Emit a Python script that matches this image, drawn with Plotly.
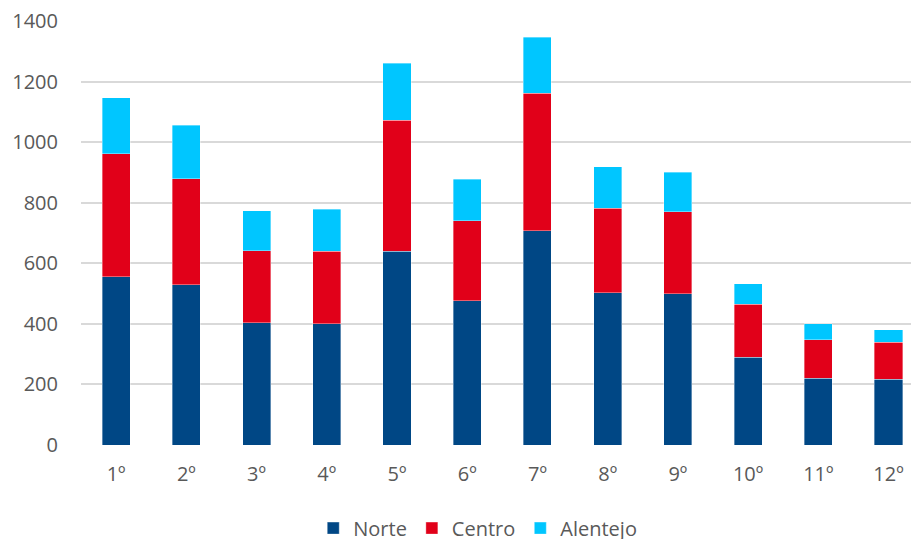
import plotly.graph_objects as go

# Categories and stacked values per region
categories = ["1º", "2º", "3º", "4º", "5º", "6º", "7º", "8º", "9º", "10º", "11º", "12º"]
norte = [555, 529, 403, 401, 640, 476, 707, 502, 500, 290, 221, 217]
centro = [407, 350, 239, 238, 433, 265, 454, 280, 270, 175, 126, 123]
alentejo = [185, 176, 131, 139, 188, 136, 185, 136, 130, 68, 53, 40]

series = [
    ("Norte", norte, "#004785"),
    ("Centro", centro, "#E10019"),
    ("Alentejo", alentejo, "#00C6FF"),
]

font_family = "'Open Sans', Lato, sans-serif"
text_color = "#595959"

fig = go.Figure()
for name, values, color in series:
    fig.add_trace(go.Bar(
        x=categories,
        y=values,
        name=name,
        marker=dict(color=color, line=dict(color="rgba(255,255,255,0.6)", width=0.6)),
    ))

fig.update_layout(
    barmode="stack",
    bargap=0.6,
    width=911,
    height=539,
    margin=dict(l=81, r=0, t=21, b=94, autoexpand=False),
    paper_bgcolor="white",
    plot_bgcolor="white",
    font=dict(family=font_family, size=20, color=text_color),
    legend=dict(
        orientation="h",
        x=0.478,
        xanchor="center",
        y=-0.15,
        yanchor="top",
        font=dict(size=20, color=text_color),
        itemwidth=30,
        traceorder="normal",
    ),
    xaxis=dict(
        range=[-0.5, 11.32],
        showgrid=False,
        showline=False,
        ticks="",
        ticklabelstandoff=15,
    ),
    yaxis=dict(
        range=[0, 1400],
        tickvals=[0, 200, 400, 600, 800, 1000, 1200, 1400],
        showgrid=True,
        gridcolor="#D9D9D9",
        gridwidth=1.5,
        zeroline=False,
        showline=False,
        ticks="",
        ticklabelstandoff=22,
    ),
)

fig.write_html("out.html")
